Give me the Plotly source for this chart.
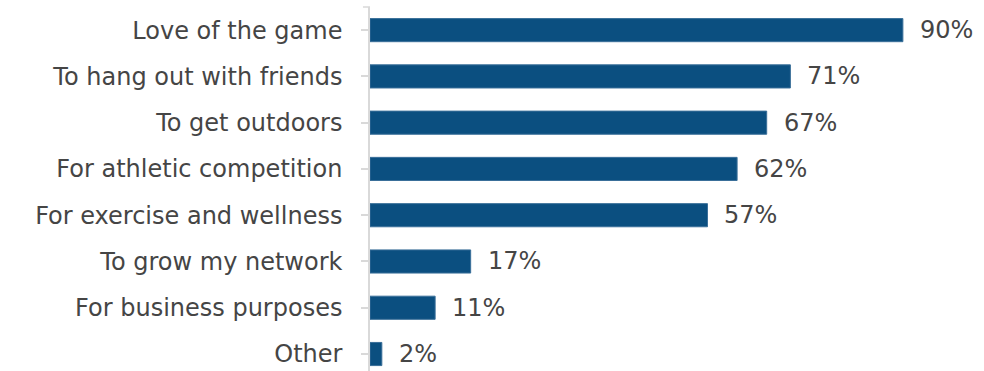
import plotly.graph_objects as go

categories = ["Love of the game", "To hang out with friends", "To get outdoors",
              "For athletic competition", "For exercise and wellness",
              "To grow my network", "For business purposes", "Other"]
values = [90, 71, 67, 62, 57, 17, 11, 2]
labels = [f"{v}%" for v in values]

FONT = "DejaVu Sans"
BAR = "#0B4F80"
TXT = "#454545"
FS = 24

fig = go.Figure()
fig.add_trace(go.Bar(
    x=values, y=categories, orientation="h",
    marker=dict(color=BAR, line=dict(color="#3A6F99", width=1)),
    width=0.5, hoverinfo="skip",
))
for v, c, t in zip(values, categories, labels):
    fig.add_annotation(x=v, y=c, text=t, showarrow=False, xanchor="left",
                       xshift=15, font=dict(family=FONT, size=FS, color=TXT))

fig.add_shape(type="line", xref="x domain", yref="y domain",
              x0=-0.0115, x1=0, y0=1, y1=1,
              line=dict(color="#d9d9d9", width=1.5))

fig.update_layout(
    width=984, height=371,
    margin=dict(l=370, r=0, t=7, b=0),
    paper_bgcolor="white", plot_bgcolor="white",
    showlegend=False,
    font=dict(family=FONT, size=FS, color=TXT),
)
fig.update_xaxes(range=[0, 103.7], visible=False)
fig.update_yaxes(
    categoryorder="array", categoryarray=categories,
    range=[7.367, -0.5], autorange=False,
    showline=True, linecolor="#d9d9d9", linewidth=1.5,
    ticks="outside", ticklen=7, tickcolor="#d9d9d9", tickwidth=1.5,
    ticklabelstandoff=14, showgrid=False, zeroline=False,
    tickfont=dict(family=FONT, size=FS, color=TXT),
)
fig.write_html("out.html")
